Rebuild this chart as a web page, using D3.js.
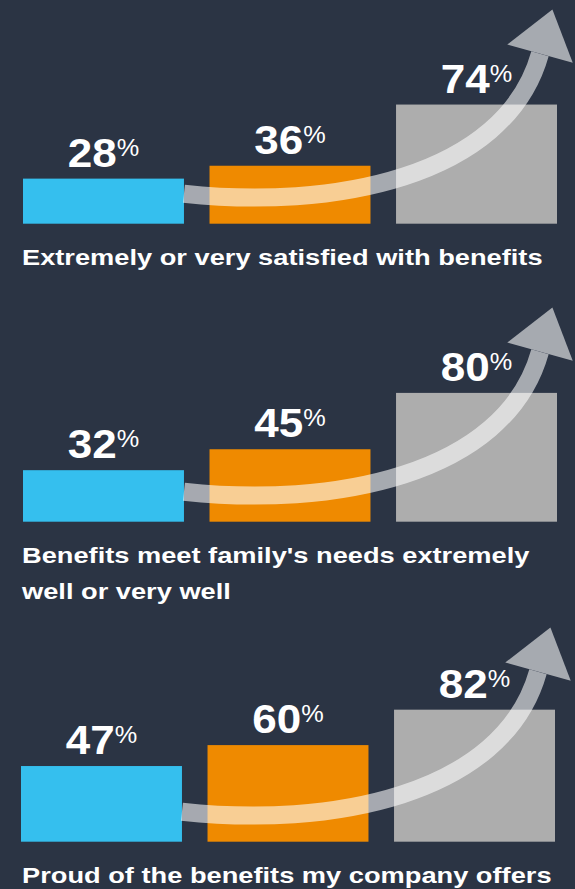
<!DOCTYPE html>
<html>
<head>
<meta charset="utf-8">
<script src="https://cdn.jsdelivr.net/npm/d3@7/dist/d3.min.js"></script>
<style>
  html, body { margin: 0; padding: 0; background: #2b3444; }
  svg { display: block; }
</style>
</head>
<body>
<svg id="chart" width="575" height="889"></svg>
<script>
// ---- data ----
const groups = ["Group A", "Group B", "Group C"];
const captions = [
  ["Extremely or very satisfied with benefits"],
  ["Benefits meet family's needs extremely", "well or very well"],
  ["Proud of the benefits my company offers"]
];
const satisfiedValues = [28, 36, 74];
const familyNeedsValues = [32, 45, 80];
const proudValues = [47, 60, 82];
const panelValues = [satisfiedValues, familyNeedsValues, proudValues];

// ---- layout / style ----
const W = 575, H = 889;
const colors = ["#35bfee", "#ef8a00", "#adadad"];
const panelBottoms = [223.7, 521.7, 841.7];
const panelShiftX = [0, 0, -2];
const captionGap = 41, captionLineH = 36.7;
const fontFamily = "'Liberation Sans', Arial, Helvetica, sans-serif";

const svg = d3.select("#chart");
svg.append("rect").attr("width", W).attr("height", H).attr("fill", "#2b3444");

const x = d3.scaleBand().domain(groups).range([23, 557]).paddingInner(0.137).paddingOuter(0);
const h = d3.scaleLinear().domain([0, 100]).range([0, 161]);
const color = d3.scaleOrdinal().domain(groups).range(colors);

panelValues.forEach((vals, i) => {
  const g = svg.append("g").attr("transform", `translate(${panelShiftX[i]},${panelBottoms[i]})`);
  const data = groups.map((k, j) => ({ k, v: vals[j] }));

  g.selectAll("rect.bar").data(data).join("rect")
    .attr("class", "bar")
    .attr("x", d => x(d.k))
    .attr("y", d => -h(d.v))
    .attr("width", x.bandwidth())
    .attr("height", d => h(d.v))
    .attr("fill", d => color(d.k));

  // curved arrow (decoration)
  const x0 = x(groups[0]) + x.bandwidth();
  const p0 = [x0, -30], p1 = [330, -14], p2 = [505, -45], p3 = [540, -170];
  const path = d3.path();
  path.moveTo(...p0);
  path.bezierCurveTo(p1[0], p1[1], p2[0], p2[1], p3[0], p3[1]);
  const dx = p3[0] - p2[0], dy = p3[1] - p2[1];
  const len = Math.hypot(dx, dy);
  const u = [dx / len, dy / len], n = [-u[1], u[0]];
  const headLen = 46, headHalf = 34;
  const tip = [p3[0] + u[0] * headLen, p3[1] + u[1] * headLen];
  const left = [p3[0] - n[0] * headHalf, p3[1] - n[1] * headHalf];
  const right = [p3[0] + n[0] * headHalf, p3[1] + n[1] * headHalf];
  const ag = g.append("g").attr("opacity", 0.58);
  ag.append("path").attr("d", path.toString())
    .attr("fill", "none").attr("stroke", "#ffffff").attr("stroke-width", 18);
  ag.append("path").attr("d", d3.line()([left, tip, right]) + "Z").attr("fill", "#ffffff");

  // value labels
  const lab = g.selectAll("text.val").data(data).join("text")
    .attr("class", "val")
    .attr("transform", d => `translate(${x(d.k) + x.bandwidth() / 2},${-h(d.v) - 12}) scale(1.1,1)`)
    .attr("text-anchor", "middle")
    .attr("fill", "#ffffff")
    .attr("font-family", fontFamily);
  lab.append("tspan").attr("font-size", 40).attr("font-weight", "bold").text(d => d.v);
  lab.append("tspan").attr("font-size", 23).attr("dy", -11).text("%");

  // caption
  captions[i].forEach((line, li) => {
    g.append("text")
      .attr("transform", `translate(${22 - panelShiftX[i]},${captionGap + li * captionLineH}) scale(1.238,1)`)
      .attr("fill", "#ffffff")
      .attr("font-family", fontFamily)
      .attr("font-weight", "bold")
      .attr("font-size", 22)
      .text(line);
  });
});
</script>
</body>
</html>
